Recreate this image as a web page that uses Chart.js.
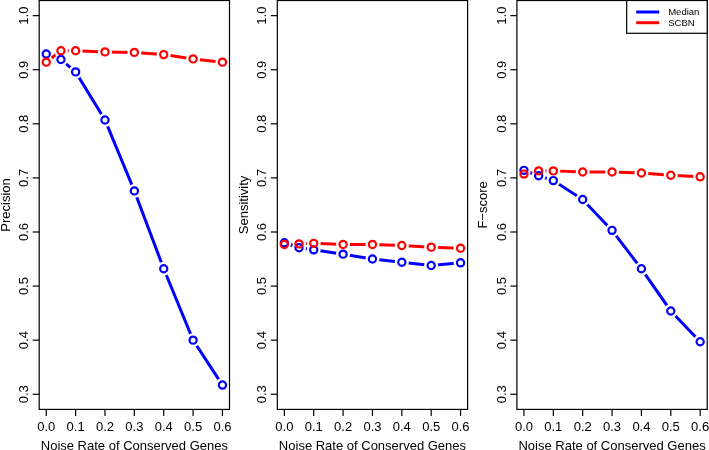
<!DOCTYPE html>
<html>
<head>
<meta charset="utf-8">
<script src="https://cdn.jsdelivr.net/npm/chart.js@4"></script>
<style>
  html, body { margin: 0; padding: 0; background: #fff; }
  #wrap { position: relative; width: 709px; height: 450px; overflow: hidden; }
  #wrap canvas { position: absolute; left: 0; top: 0; }
</style>
</head>
<body>
<div id="wrap">
  <canvas id="c0" width="709" height="450"></canvas>
  <canvas id="c1" width="709" height="450"></canvas>
  <canvas id="c2" width="709" height="450"></canvas>
</div>
<script>
const noiseRates = [0, 0.05, 0.1, 0.2, 0.3, 0.4, 0.5, 0.6];
const xTicks = [0, 0.1, 0.2, 0.3, 0.4, 0.5, 0.6];
const yTicks = [0.3, 0.4, 0.5, 0.6, 0.7, 0.8, 0.9, 1.0];
const seriesNames = ["Median", "SCBN"];
const panelTitles = ["Precision", "Sensitivity", "F\u2212score"];
const xTitle = "Noise Rate of Conserved Genes";

const precisionMedian = [0.929, 0.919, 0.896, 0.807, 0.676, 0.532, 0.400, 0.317];
const precisionSCBN = [0.914, 0.935, 0.935, 0.933, 0.932, 0.928, 0.920, 0.914];
const sensitivityMedian = [0.580, 0.571, 0.567, 0.559, 0.550, 0.544, 0.538, 0.543];
const sensitivitySCBN = [0.577, 0.578, 0.579, 0.577, 0.577, 0.575, 0.572, 0.570];
const fscoreMedian = [0.714, 0.704, 0.695, 0.660, 0.603, 0.532, 0.454, 0.397];
const fscoreSCBN = [0.707, 0.713, 0.713, 0.711, 0.711, 0.709, 0.705, 0.702];

const panelData = [
  [precisionMedian, precisionSCBN],
  [sensitivityMedian, sensitivitySCBN],
  [fscoreMedian, fscoreSCBN],
];
const colors = ["#0000ff", "#ff0000"];

const FONT = '"Liberation Sans", Arial, sans-serif';
const panelLeft = [39.2, 277.3, 516.9];
const panelWidth = 190.3;
const plotTop = 0.5;
const plotBottom = 409.4;
const GAP = 7;

// R style axes, frame, open circles and line gaps (type = "b")
const rStyle = {
  id: "rStyle",
  beforeDatasetDraw(chart, args) {
    const ctx = chart.ctx;
    ctx.save();
    ctx.beginPath();
    ctx.rect(0, 0, chart.width, chart.height);
    args.meta.data.forEach((p) => {
      ctx.moveTo(p.x + GAP, p.y);
      ctx.arc(p.x, p.y, GAP, 0, Math.PI * 2);
    });
    ctx.clip("evenodd");
  },
  afterDatasetDraw(chart, args) {
    const ctx = chart.ctx;
    ctx.restore();
    ctx.save();
    ctx.strokeStyle = chart.data.datasets[args.index].borderColor;
    ctx.lineWidth = 2.2;
    args.meta.data.forEach((p) => {
      ctx.beginPath();
      ctx.arc(p.x, p.y, 3.6, 0, Math.PI * 2);
      ctx.stroke();
    });
    ctx.restore();
  },
  afterDraw(chart, args, opts) {
    const ctx = chart.ctx;
    const { left, right, top, bottom } = chart.chartArea;
    const xs = chart.scales.x;
    const ys = chart.scales.y;
    ctx.save();
    ctx.strokeStyle = "#000";
    ctx.fillStyle = "#000";
    ctx.lineWidth = 1.2;
    ctx.strokeRect(left, top, right - left, bottom - top);

    ctx.font = "13px " + FONT;
    ctx.textAlign = "center";
    ctx.textBaseline = "alphabetic";
    xTicks.forEach((v) => {
      const px = xs.getPixelForValue(v);
      ctx.beginPath();
      ctx.moveTo(px, bottom);
      ctx.lineTo(px, bottom + 6.5);
      ctx.stroke();
      ctx.fillText(v.toFixed(1), px, 431);
    });
    yTicks.forEach((v) => {
      const py = ys.getPixelForValue(v);
      ctx.beginPath();
      ctx.moveTo(left - 6.5, py);
      ctx.lineTo(left, py);
      ctx.stroke();
      ctx.save();
      ctx.translate(left - 11, py);
      ctx.rotate(-Math.PI / 2);
      ctx.fillText(v.toFixed(1), 0, 0);
      ctx.restore();
    });
    ctx.fillText(xTitle, (left + right) / 2, 449.5);
    ctx.save();
    ctx.translate(left - 29.5, (top + bottom) / 2);
    ctx.rotate(-Math.PI / 2);
    ctx.fillText(opts.title, 0, 0);
    ctx.restore();

    if (opts.legend) {
      const bx = right - 80.5;
      ctx.fillStyle = "#fff";
      ctx.fillRect(bx, top, right - bx, 32.8);
      ctx.strokeRect(bx, top, right - bx, 32.8);
      ctx.font = "9.5px " + FONT;
      ctx.textAlign = "left";
      ctx.textBaseline = "middle";
      seriesNames.forEach((name, i) => {
        const ly = 12 + i * 10.7;
        ctx.strokeStyle = colors[i];
        ctx.lineWidth = 3;
        ctx.beginPath();
        ctx.moveTo(bx + 9.5, ly);
        ctx.lineTo(bx + 32.5, ly);
        ctx.stroke();
        ctx.fillStyle = "#000";
        ctx.fillText(name, bx + 41.5, ly + 0.6);
      });
    }
    ctx.restore();
  },
};

panelData.forEach((series, k) => {
  const canvas = document.getElementById("c" + k);
  new Chart(canvas, {
    type: "line",
    data: {
      datasets: series.map((values, i) => ({
        label: seriesNames[i],
        data: noiseRates.map((x, j) => ({ x, y: values[j] })),
        borderColor: colors[i],
        borderWidth: 3,
        pointRadius: 0,
        tension: 0,
        fill: false,
        order: 1 - i,
      })),
    },
    options: {
      responsive: false,
      animation: false,
      events: [],
      layout: {
        padding: {
          left: panelLeft[k],
          right: 709 - panelLeft[k] - panelWidth,
          top: plotTop,
          bottom: 450 - plotBottom,
        },
      },
      scales: {
        x: { type: "linear", display: false, min: -0.024, max: 0.624 },
        y: { type: "linear", display: false, min: 0.272, max: 1.028 },
      },
      plugins: {
        legend: { display: false },
        tooltip: { enabled: false },
        rStyle: { title: panelTitles[k], legend: k === 2 },
      },
    },
    plugins: [rStyle],
  });
});
</script>
</body>
</html>
